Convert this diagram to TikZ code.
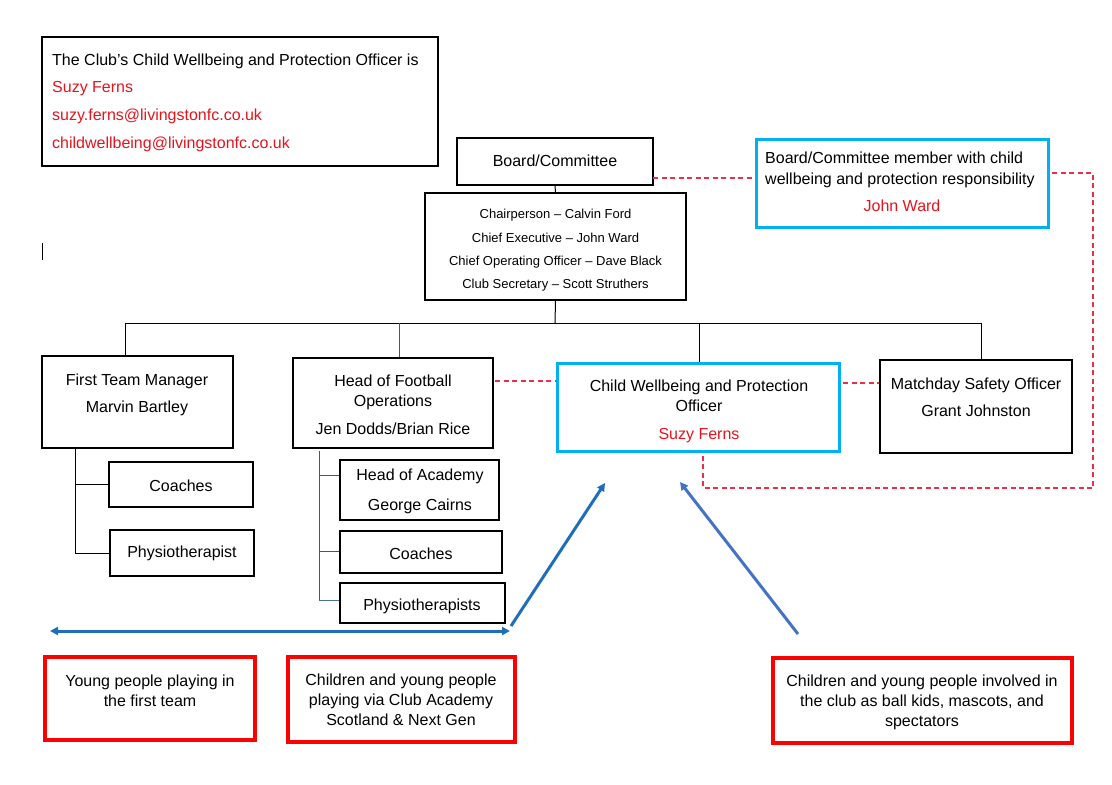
\documentclass[tikz,border=0pt]{standalone}
\usepackage{fontspec}
\setmainfont{Liberation Sans}
\usetikzlibrary{arrows.meta}
\definecolor{cyanbox}{HTML}{00B0F0}
\definecolor{redbox}{HTML}{FF0000}
\definecolor{redtxt}{HTML}{E3141E}
\definecolor{reddash}{HTML}{E8304A}
\definecolor{arrowA}{HTML}{1E6EB9}
\definecolor{arrowB}{HTML}{4472C4}
\definecolor{graytree}{HTML}{555555}
\definecolor{bluetree}{HTML}{4F6FA0}
\tikzset{
  box/.style={draw=black, line width=1.1pt, inner sep=0pt},
  bluebox/.style={draw=cyanbox, line width=3.6pt, inner sep=0pt},
  redbx/.style={draw=redbox, line width=3.8pt, inner sep=0pt},
  txt/.style={inner sep=0pt, font=\fontsize{16}{20}\selectfont, align=center},
  small/.style={inner sep=0pt, font=\fontsize{13}{23.3}\selectfont, align=center},
  conn/.style={line width=1pt, black},
  rdash/.style={draw=reddash, line width=1.1pt, dash pattern=on 5pt off 3.5pt},
  barrow/.style={line width=3pt, draw=arrowA},
}
\begin{document}
\begin{tikzpicture}[x=1pt,y=-1pt]
\useasboundingbox (0,0) rectangle (1112,785);
% boxes
\node[box, minimum width=396pt, minimum height=129pt] (info) at (240,101.5) {};
\node[box, minimum width=196pt, minimum height=47pt] (board) at (555,161.5) {};
\node[box, minimum width=261pt, minimum height=107pt] (chair) at (555.5,246.5) {};
\node[bluebox, minimum width=292pt, minimum height=88pt] (member) at (902.5,183.5) {};
\node[box, minimum width=191pt, minimum height=92pt] (ftm) at (137.5,402) {};
\node[box, minimum width=200pt, minimum height=90pt] (hfo) at (393,403) {};
\node[bluebox, minimum width=282pt, minimum height=88pt] (cwpo) at (698.5,407.5) {};
\node[box, minimum width=192pt, minimum height=93pt] (mso) at (976,406.5) {};
\node[box, minimum width=144pt, minimum height=45pt] (coachA) at (181,484.5) {};
\node[box, minimum width=144pt, minimum height=46pt] (physioA) at (182,553) {};
\node[box, minimum width=159pt, minimum height=60pt] (hoa) at (419.5,490) {};
\node[box, minimum width=162pt, minimum height=42pt] (coachB) at (421,552) {};
\node[box, minimum width=165pt, minimum height=40pt] (physioB) at (422.5,603) {};
\node[redbx, minimum width=210pt, minimum height=83pt] (yA) at (150,698.5) {};
\node[redbx, minimum width=227pt, minimum height=85pt] (yB) at (401.5,699.5) {};
\node[redbx, minimum width=299pt, minimum height=85pt] (yC) at (922.5,700.5) {};
% texts (base anchor = baseline of the last line)
\node[txt, anchor=base west, align=left, font=\fontsize{16}{27.7}\selectfont] (infotxt) at (52,148.1)
  {The Club’s Child Wellbeing and Protection Officer is\\
   \textcolor{redtxt}{Suzy Ferns}\\
   \textcolor{redtxt}{suzy.ferns@livingstonfc.co.uk}\\
   \textcolor{redtxt}{childwellbeing@livingstonfc.co.uk}};
\node[txt, anchor=base] (boardtxt) at (555,166) {Board/Committee};
\node[small, anchor=base] (chairtxt) at (555.5,288.6)
  {Chairperson – Calvin Ford\\Chief Executive – John Ward\\Chief Operating Officer – Dave Black\\Club Secretary – Scott Struthers};
\node[txt, anchor=base west, align=left, font=\fontsize{16}{21}\selectfont] (membertxt) at (765,184.7)
  {Board/Committee member with child\\wellbeing and protection responsibility};
\node[txt, anchor=base, text=redtxt] (membername) at (902,211.7) {John Ward};
\node[txt, anchor=base, font=\fontsize{16}{27}\selectfont] (ftmtxt) at (137,412.7) {First Team Manager\\Marvin Bartley};
\node[txt, anchor=base] (hfotxt) at (393,434.7) {Head of Football\\Operations\\[8pt]Jen Dodds/Brian Rice};
\node[txt, anchor=base] (cwpotxt) at (699,439.7) {Child Wellbeing and Protection\\Officer\\[8pt]\textcolor{redtxt}{Suzy Ferns}};
\node[txt, anchor=base, font=\fontsize{16}{27}\selectfont] (msotxt) at (976,416.7) {Matchday Safety Officer\\Grant Johnston};
\node[txt] (coachAtxt) at (181,486) {Coaches};
\node[txt] (physioAtxt) at (182,553) {Physiotherapist};
\node[txt, anchor=base, font=\fontsize{16}{30}\selectfont] (hoatxt) at (420,510.7) {Head of Academy\\George Cairns};
\node[txt] (coachBtxt) at (421,554) {Coaches};
\node[txt] (physioBtxt) at (422,606) {Physiotherapists};
\node[txt, anchor=base] (yAtxt) at (150,706.7) {Young people playing in\\the first team};
\node[txt, anchor=base] (yBtxt) at (401,725.7) {Children and young people\\playing via Club Academy\\Scotland \& Next Gen};
\node[txt, anchor=base] (yCtxt) at (922,726.7) {Children and young people involved in\\the club as ball kids, mascots, and\\spectators};
% stray cursor mark
\draw[line width=1pt] (42,243) -- (42,260);
% org connectors
\coordinate (busC) at (555,323);
\coordinate (busL) at (125,323);
\coordinate (busM) at (399,323);
\coordinate (busN) at (699,323);
\coordinate (busR) at (981,323);
\draw[conn] (board.south) -- (chair.north);
\draw[conn] (chair.south) -- (busC);
\draw[conn] (busL) -- (busR);
\draw[conn] (busL) -- (busL |- ftm.north);
\draw[conn, draw=graytree] (busM) -- (busM |- hfo.north);
\draw[conn] (busN) -- (busN |- cwpo.north);
\draw[conn] (busR) -- (busR |- mso.north);
% first team tree
\coordinate (tA) at (75,448);
\draw[conn] (tA) -- (tA |- physioA.west) -- (physioA.west);
\draw[conn] (tA |- coachA.west) -- (coachA.west);
% academy tree
\coordinate (tB) at (319,451);
\coordinate (tBend) at (319,600);
\draw[conn, draw=graytree] (tB) -- (tBend);
\draw[conn, draw=graytree] (319,475) -- (hoa.west |- 0,475);
\draw[conn, draw=graytree] (319,551) -- (coachB.west |- 0,551);
\draw[conn, draw=bluetree] (tBend) -- (physioB.west |- tBend);
% dashed red links
\coordinate (dA) at (653,178);
\draw[rdash] (dA) -- (dA -| member.west);
\coordinate (dB) at (1052,173);
\coordinate (dC) at (1093,173);
\coordinate (dD) at (1093,488);
\coordinate (dE) at (703,488);
\draw[rdash] (dB) -- (dC) -- (dD) -- (dE) -- (dE |- cwpo.south);
\coordinate (dF) at (495,381);
\draw[rdash] (dF) -- (dF -| cwpo.west);
\coordinate (dG) at (843,383);
\draw[rdash] (dG) -- (dG -| mso.west);
% blue arrows
\coordinate (aL) at (50,631);
\coordinate (aR) at (510,631);
\coordinate (bS) at (511,626);
\coordinate (bE) at (605,483);
\coordinate (cS) at (798,634);
\coordinate (cE) at (680,482);
\draw[barrow, {Triangle[length=8pt,width=8pt]}-{Triangle[length=8pt,width=8pt]}] (aL) -- (aR);
\draw[barrow, -{Triangle[length=8pt,width=8pt]}] (bS) -- (bE);
\draw[barrow, draw=arrowB, -{Triangle[length=8pt,width=8pt]}] (cS) -- (cE);
\end{tikzpicture}
\end{document}
